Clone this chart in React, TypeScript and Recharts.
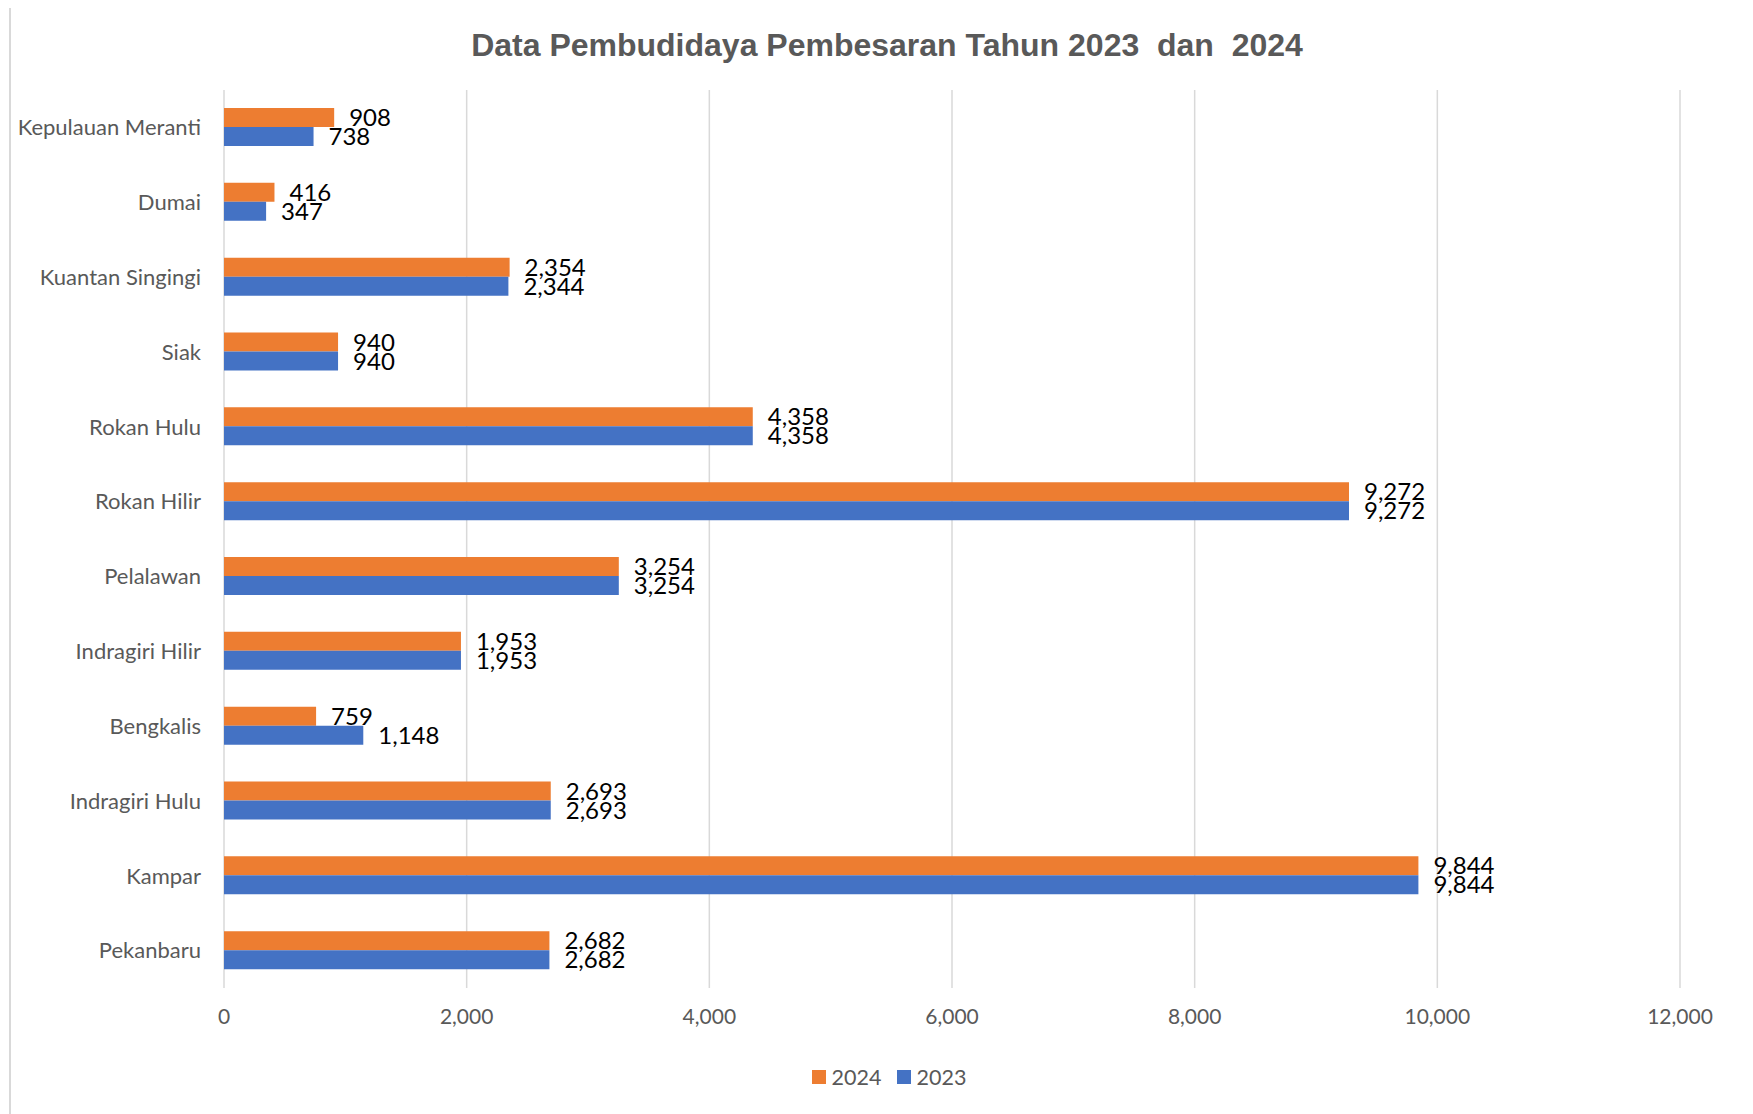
import React from "react";
import {
  BarChart,
  Bar,
  XAxis,
  YAxis,
  CartesianGrid,
  Legend,
  LabelList,
} from "recharts";

const categories = [
  "Kepulauan Meranti",
  "Dumai",
  "Kuantan Singingi",
  "Siak",
  "Rokan Hulu",
  "Rokan Hilir",
  "Pelalawan",
  "Indragiri Hilir",
  "Bengkalis",
  "Indragiri Hulu",
  "Kampar",
  "Pekanbaru",
];
const values2024 = [908, 416, 2354, 940, 4358, 9272, 3254, 1953, 759, 2693, 9844, 2682];
const values2023 = [738, 347, 2344, 940, 4358, 9272, 3254, 1953, 1148, 2693, 9844, 2682];
const xTicks = [0, 2000, 4000, 6000, 8000, 10000, 12000];
const seriesNames = ["2024", "2023"];
const seriesColors = ["#ED7D31", "#4472C4"];

const data = categories.map((name, i) => ({
  name,
  y2024: values2024[i],
  y2023: values2023[i],
}));

const fmt = (v: any) => Number(v).toLocaleString("en-US");

const AXIS_FONT = "Lato, 'Noto Sans', sans-serif";

const LegendContent = () => (
  <div
    style={{
      display: "flex",
      justifyContent: "center",
      alignItems: "center",
      fontFamily: AXIS_FONT,
      fontSize: 21.5,
      color: "#595959",
      paddingLeft: 90,
    }}
  >
    {seriesNames.map((n, i) => (
      <div key={n} style={{ display: "flex", alignItems: "center", marginRight: i === 0 ? 15 : 0 }}>
        <span
          style={{
            display: "inline-block",
            width: 14,
            height: 14,
            background: seriesColors[i],
            marginRight: 6,
          }}
        />
        <span>{n}</span>
      </div>
    ))}
  </div>
);

export default function App() {
  return (
    <div style={{ position: "relative", width: 1745, height: 1106, background: "#fff" }}>
      <div
        style={{
          position: "absolute",
          left: 1,
          top: -2,
          right: 0,
          bottom: 0,
          borderLeft: "2px solid #d9d9d9",
          borderTop: "2px solid #d9d9d9",
          pointerEvents: "none",
        }}
      />
      <div
        style={{
          position: "absolute",
          left: 0,
          width: 1758,
          top: 21,
          textAlign: "center",
          fontFamily: "'Liberation Sans', Arial, sans-serif",
          fontWeight: "bold",
          fontSize: 32,
          lineHeight: "32px",
          color: "#595959",
          whiteSpace: "pre",
        }}
      >
        {"Data Pembudidaya Pembesaran Tahun 2023  dan  2024"}
      </div>
      <BarChart
        width={1745}
        height={1106}
        data={data}
        layout="vertical"
        margin={{ top: 82, right: 73, bottom: 24, left: 0 }}
        barGap={0}
        barSize={19}
      >
        <CartesianGrid horizontal={false} stroke="#d9d9d9" strokeWidth={1.5} />
        <XAxis
          type="number"
          domain={[0, 12000]}
          ticks={xTicks}
          tickFormatter={fmt}
          axisLine={false}
          tickLine={false}
          tickMargin={15}
          height={76}
          tick={{ fill: "#595959", fontSize: 21, fontFamily: AXIS_FONT }}
          interval={0}
        />
        <YAxis
          type="category"
          dataKey="name"
          width={216}
          axisLine={false}
          tickLine={false}
          tickMargin={17}
          interval={0}
          tick={{ fill: "#595959", fontSize: 22, fontFamily: AXIS_FONT }}
        />
        <Legend verticalAlign="bottom" align="center" content={<LegendContent />} />
        <Bar dataKey="y2024" name="2024" fill="#ED7D31" isAnimationActive={false}>
          <LabelList
            dataKey="y2024"
            position="right"
            offset={15}
            formatter={fmt}
            style={{ fill: "#000", fontSize: 24, fontFamily: AXIS_FONT }}
          />
        </Bar>
        <Bar dataKey="y2023" name="2023" fill="#4472C4" isAnimationActive={false}>
          <LabelList
            dataKey="y2023"
            position="right"
            offset={15}
            formatter={fmt}
            style={{ fill: "#000", fontSize: 24, fontFamily: AXIS_FONT }}
          />
        </Bar>
      </BarChart>
    </div>
  );
}
